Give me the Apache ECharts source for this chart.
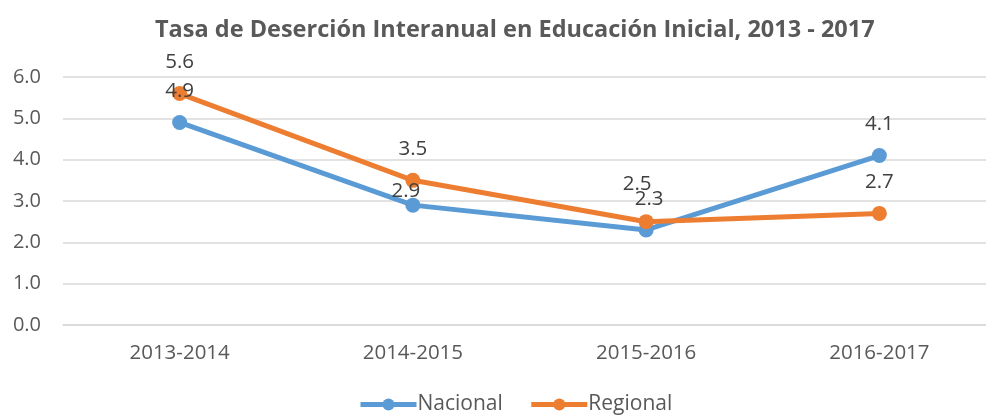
<!DOCTYPE html>
<html>
<head>
<meta charset="utf-8">
<script src="https://cdn.jsdelivr.net/npm/echarts@6/dist/echarts.min.js"></script>
<style>
  html, body { margin: 0; padding: 0; background: #fff; overflow: hidden; }
  #chart { width: 1000px; height: 419px; }
</style>
</head>
<body>
<div id="chart"></div>
<script>
const CATEGORIES = ['2013-2014', '2014-2015', '2015-2016', '2016-2017'];
const NACIONAL = [4.9, 2.9, 2.3, 4.1];
const REGIONAL = [5.6, 3.5, 2.5, 2.7];
const SERIES_LABELS = ['Nacional', 'Regional'];
const LINE_COLORS = ['#5B9BD5', '#ED7D31'];

const TEXT_COLOR = '#595959';
const FONT = '"Open Sans", "Noto Sans", sans-serif';

// labels that Excel nudged away from the default spot
const LABEL_TWEAKS = {
  Nacional: { 1: { distance: -4, offset: [-7, 0] }, 2: { offset: [3, 0] } },
  Regional: { 2: { distance: 20, offset: [-9, 0] } },
};

function buildData(name, values) {
  return values.map((v, i) => {
    const t = LABEL_TWEAKS[name][i];
    return t ? { value: v, label: t } : v;
  });
}

// the original plot area runs a bit past the right edge of the picture,
// so the canvas is wider than the window and gets cropped
const chart = echarts.init(document.getElementById('chart'), null, { renderer: 'canvas' });

chart.setOption({
  backgroundColor: '#fff',
  title: {
    text: 'Tasa de Deserción Interanual en Educación Inicial, 2013 - 2017',
    left: 150,
    top: 13,
    textStyle: { color: TEXT_COLOR, fontFamily: FONT, fontSize: 23.5, fontWeight: 'bold' },
  },
  grid: { top: 77, bottom: 94, left: 63, right: 4 },
  legend: {
    bottom: -1,
    left: 353,
    data: SERIES_LABELS,
    itemWidth: 56,
    itemHeight: 15,
    itemGap: 26,
    lineStyle: { width: 5 },
    textStyle: { color: TEXT_COLOR, fontFamily: FONT, fontSize: 21, padding: [0, 0, 0, -4] },
  },
  xAxis: {
    type: 'category',
    data: CATEGORIES,
    axisLine: { lineStyle: { color: '#d9d9d9', width: 1.5 } },
    axisTick: { show: false },
    axisLabel: { color: TEXT_COLOR, fontFamily: FONT, fontSize: 20.5, margin: 18 },
  },
  yAxis: {
    type: 'value',
    min: 0,
    max: 6,
    interval: 1,
    axisLine: { show: false },
    axisTick: { show: false },
    splitLine: { lineStyle: { color: '#d9d9d9', width: 1.5 } },
    axisLabel: {
      color: TEXT_COLOR, fontFamily: FONT, fontSize: 20, margin: 22,
      formatter: (v) => v.toFixed(1),
    },
  },
  series: [NACIONAL, REGIONAL].map((values, k) => ({
    name: SERIES_LABELS[k],
    type: 'line',
    data: buildData(SERIES_LABELS[k], values),
    symbol: 'circle',
    symbolSize: 15,
    lineStyle: { color: LINE_COLORS[k], width: 5 },
    itemStyle: { color: LINE_COLORS[k] },
    label: {
      show: true,
      position: 'top',
      distance: 13,
      color: '#404040',
      fontFamily: FONT,
      fontSize: 20.5,
      formatter: (p) => Number(p.value).toFixed(1),
    },
  })),
});
</script>
</body>
</html>
